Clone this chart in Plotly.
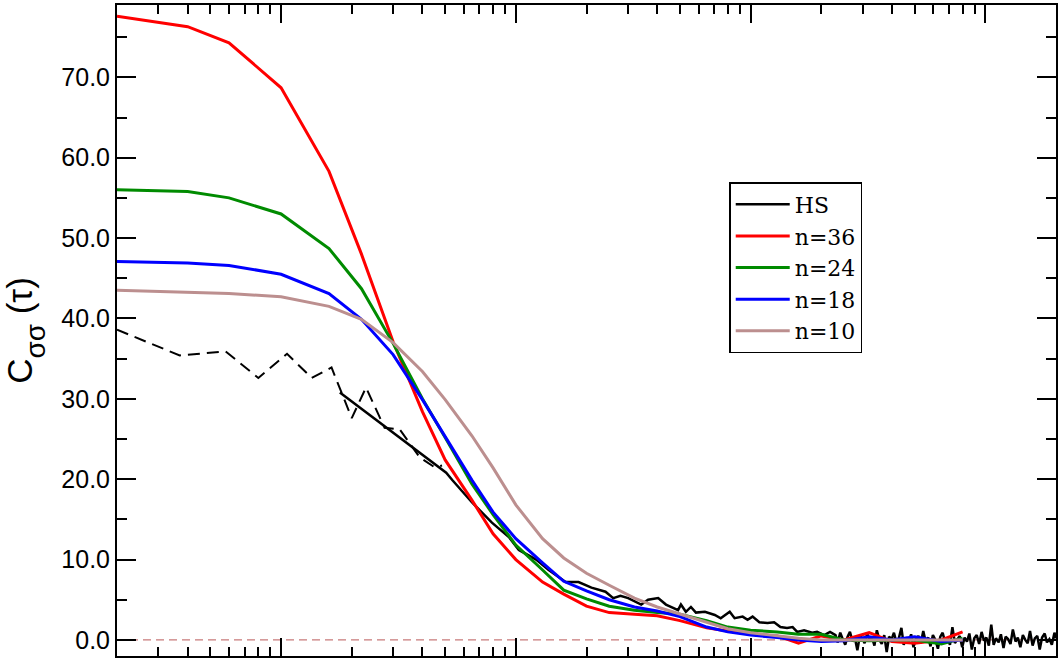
import math
import plotly.graph_objects as go

# ---- data ----
t_n = [0.2, 0.4, 0.6, 1.0, 1.6, 2.2, 3.0, 4.0, 5.0, 6.5, 8.0, 10, 13, 16, 20, 25, 32, 40,
       50, 65, 80, 100, 130, 160, 200, 250, 320, 400, 500, 650, 800]

c_n36 = [77.6, 76.3, 74.3, 68.7, 58.3, 48.0, 37.1, 28.4, 22.4, 17.4, 13.2, 10.0, 7.2, 5.7,
         4.2, 3.4, 3.2, 3.0, 2.4, 1.5, 1.1, 0.7, 0.5, -0.4, 0.5, 0.0, 0.9, -0.2, -0.4, 0.0, 1.0]
c_n24 = [56.0, 55.8, 55.0, 53.0, 48.7, 43.7, 36.9, 30.0, 25.2, 19.4, 15.6, 11.8, 8.7, 6.2,
         5.1, 4.2, 3.7, 3.4, 3.2, 2.4, 1.6, 1.2, 1.0, 0.7, 0.7, 0.0, -0.1, 0.0, 0.0, -0.5, 0.2]
c_n18 = [47.1, 46.9, 46.6, 45.5, 43.1, 39.9, 35.5, 29.9, 25.3, 19.9, 15.9, 12.6, 9.6, 7.3,
         6.1, 5.0, 4.1, 3.6, 2.9, 1.6, 1.0, 0.6, 0.3, 0.0, -0.2, -0.1, 0.4, 0.0, 0.4, -0.2, 0.0]
c_n10 = [43.5, 43.3, 43.1, 42.7, 41.5, 39.9, 37.0, 33.4, 29.9, 25.4, 21.4, 16.8, 12.6, 10.2,
         8.3, 6.8, 5.2, 4.1, 3.2, 2.2, 1.4, 0.9, 0.5, 0.2, 0.0, 0.0, 0.0, 0.0, 0.0, 0.0, 0.0]

# dashed black curve (short-time part)
t_dash = [0.2, 0.37, 0.58, 0.8, 1.06, 1.35, 1.64, 2.0, 2.3, 2.76, 3.2, 3.9, 4.5, 4.85]
c_dash = [38.6, 35.4, 35.9, 32.6, 35.6, 32.6, 33.9, 27.6, 31.4, 26.4, 26.2, 22.7, 21.5, 21.7]

# HS (solid black)
t_hs_head = [1.78, 2.81, 3.88, 5.05, 5.36, 6.51, 7.91, 9.34, 10.3, 12.2, 13.8, 16.3, 18.5,
             21.0, 24.1, 26.0, 27.9, 30.1, 34.2, 36.6, 40.4, 43.6, 49.1, 50.5, 53.0, 55.7,
             58.5, 63.9, 70.4, 74.6, 81.5, 85.5, 92.5, 97.1, 102, 109, 118, 126, 134, 143,
             151, 158, 169, 183, 192, 206, 218]
c_hs_head = [30.8, 26.4, 23.3, 20.8, 19.9, 17.1, 14.6, 12.8, 11.2, 10.0, 8.7, 7.2, 7.2,
             6.5, 6.0, 5.2, 5.5, 5.2, 4.4, 5.0, 5.2, 4.4, 3.7, 4.4, 3.5, 4.1,
             3.4, 3.5, 3.1, 2.7, 3.5, 2.7, 2.9, 2.5, 2.9, 2.2, 2.1, 2.2, 1.6, 1.5,
             1.6, 1.0, 1.2, 0.9, 1.0, 0.6, 1.0]
t_hs_tail = [230, 235, 241, 247, 253, 259, 265, 272, 278, 285,
             292, 299, 306, 314, 321, 329, 337, 345, 354, 362,
             371, 380, 389, 399, 408, 418, 428, 439, 449, 460,
             471, 483, 494, 506, 519, 531, 544, 557, 571, 584,
             598, 613, 628, 643, 658, 674, 690, 707, 724, 742,
             760, 778, 797, 816, 835, 855, 876, 897, 919, 941,
             964, 987, 1010, 1035, 1060, 1085, 1110, 1140, 1165, 1195,
             1220, 1250, 1280, 1310, 1345, 1375, 1410, 1445, 1480, 1515,
             1550, 1590, 1625, 1665, 1705, 1745, 1790, 1830, 1875, 1920,
             1970, 2000]
c_hs_tail = [0.6, -0.3, 0.9, 0.1, -0.6, 0.4, 1.0, -0.2, 0.3, -1.3,
             0.5, 0.2, -0.4, 0.8, -0.1, 0.3, -0.7, 1.2, 0.0, -0.5,
             0.6, -1.5, 0.4, 0.1, 0.9, -0.3, 0.2, 1.5, -0.6, 0.3,
             -0.2, 0.7, -0.9, 0.1, 0.5, -0.4, 1.1, -0.2, 0.3, -0.8,
             0.6, 0.0, -1.1, 0.4, 0.9, -0.3, 0.2, -0.6, 1.6, -0.4,
             0.1, 0.5, -0.9, 0.3, -0.2, 0.8, -1.2, 0.2, 0.6, -0.5,
             1.0, -0.1, 0.3, -0.7, 1.9, -0.6, 0.2, -0.3, 0.7, -1.0,
             0.4, 0.1, -0.5, 1.3, -0.2, 0.3, -0.9, 0.6, 0.0, -0.4,
             1.1, -0.7, 0.2, 0.5, -1.2, 0.3, 0.8, -0.3, 0.1, -0.6,
             0.9, 0.2]

series_names = ["n=36", "n=24", "n=18", "n=10"]
series_colors = ["#ff0000", "#008b00", "#0000ff", "#bc8f8f"]

# ---- figure ----
fig = go.Figure()

fig.add_trace(go.Scatter(x=t_dash, y=c_dash, mode="lines", showlegend=False,
                         line=dict(color="black", width=2, dash="12px,7px")))
fig.add_trace(go.Scatter(x=t_hs_head + t_hs_tail, y=c_hs_head + c_hs_tail, mode="lines",
                         name="HS", line=dict(color="black", width=2.5)))
for name, col, vals in zip(series_names, series_colors, [c_n36, c_n24, c_n18, c_n10]):
    fig.add_trace(go.Scatter(x=t_n, y=vals, mode="lines", name=name,
                             line=dict(color=col, width=3)))

fig.add_hline(y=0, line=dict(color="#c87a7a", width=1.2, dash="8px,5px"), layer="below")

axis_common = dict(showline=True, linecolor="black", linewidth=2, mirror="allticks",
                   ticks="inside", tickcolor="black", tickwidth=1.5, showgrid=False,
                   zeroline=False)

fig.update_xaxes(type="log", range=[math.log10(0.2), math.log10(2000)], dtick=1,
                 ticklen=18, showticklabels=False,
                 minor=dict(ticks="inside", ticklen=9, tickwidth=1.5, tickcolor="black",
                            dtick="D1", showgrid=False),
                 **axis_common)
fig.update_yaxes(range=[-2, 79], tick0=0, dtick=10, tickformat=".1f", ticklen=19,
                 tickfont=dict(family="Liberation Sans, Arial", size=25, color="black"),
                 minor=dict(ticks="inside", ticklen=10, tickwidth=1.5, tickcolor="black",
                            dtick=5, showgrid=False),
                 title=dict(text='C<sub><span style="font-size:28px;baseline-shift:-6px">σσ</span></sub> (τ)',
                            standoff=19,
                            font=dict(family="Liberation Sans, Arial", size=35, color="black")),
                 **axis_common)

fig.update_layout(
    width=1059, height=660,
    margin=dict(l=117, r=1, t=5, b=4),
    plot_bgcolor="white", paper_bgcolor="white",
    legend=dict(x=0.652, y=0.728, xanchor="left", yanchor="top",
                bordercolor="black", borderwidth=1.5, bgcolor="white",
                font=dict(family="DejaVu Serif, Liberation Serif", size=22, color="black"),
                tracegroupgap=0, itemwidth=54),
)

fig.write_html("out.html")
